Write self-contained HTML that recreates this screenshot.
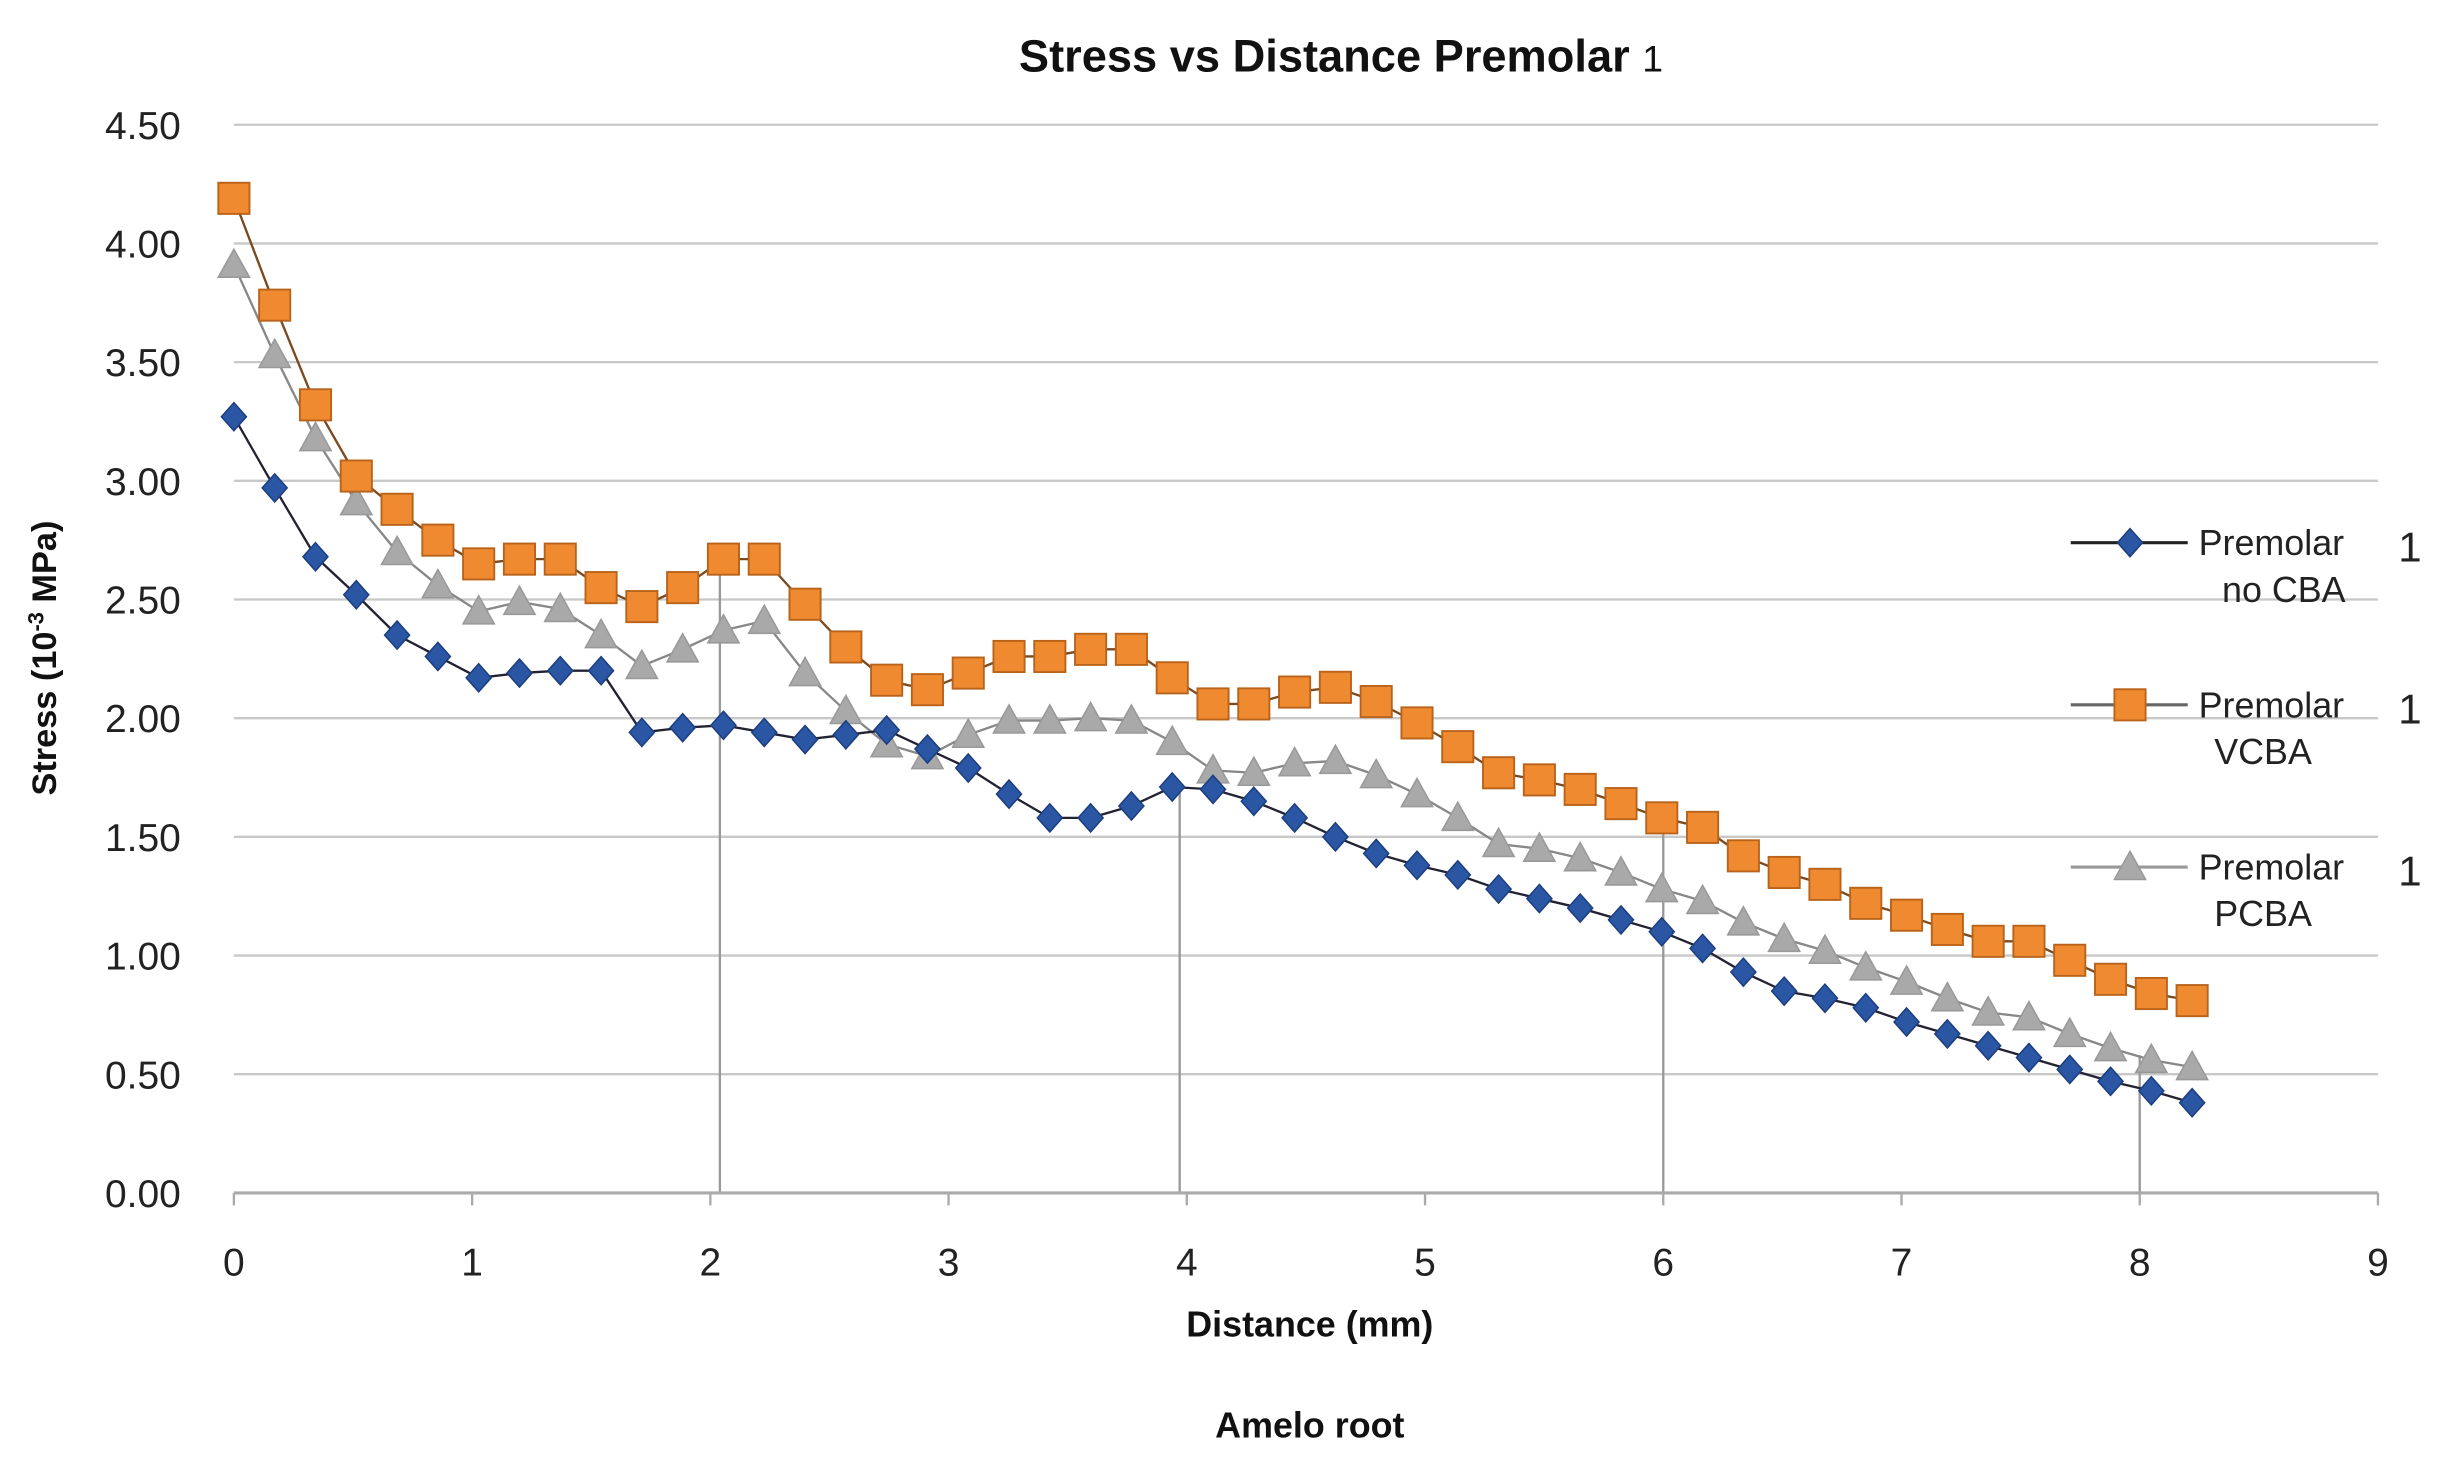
<!DOCTYPE html>
<html><head><meta charset="utf-8"><style>
html,body{margin:0;padding:0;background:#fff;}
svg{display:block;font-family:"Liberation Sans",sans-serif;}
</style></head><body>
<svg id="chart" width="2445" height="1458" viewBox="0 0 1568 935" preserveAspectRatio="none" xmlns="http://www.w3.org/2000/svg">
<rect width="1568" height="935" fill="#fff"/>
<text x="860" y="46" font-size="29" font-weight="bold" text-anchor="middle" fill="#111">Stress vs Distance  Premolar <tspan font-size="24" font-weight="normal">1</tspan></text>
<g id="grid"></g>
<g id="axes"></g>
<g id="series"></g>
<text transform="translate(36,422) rotate(-90)" font-size="22" font-weight="bold" text-anchor="middle" fill="#111">Stress (10<tspan font-size="14" dy="-8">-3</tspan><tspan dy="8"> MPa)</tspan></text>
<text x="840" y="857" font-size="23" font-weight="bold" text-anchor="middle" fill="#111">Distance (mm)</text>
<text x="840" y="922" font-size="23" font-weight="bold" text-anchor="middle" fill="#111">Amelo root</text>
<g id="legend"></g>
</svg>
<script>
const xs = [];
const blueVals = [3.27,2.97,2.68,2.52,2.35,2.26,2.17,2.19,2.20,2.20,1.94,1.96,1.97,1.94,1.91,1.93,1.95,1.87,1.79,1.68,1.58,1.58,1.63,1.71,1.70,1.65,1.58,1.50,1.43,1.38,1.34,1.28,1.24,1.20,1.15,1.10,1.03,0.93,0.85,0.82,0.78,0.72,0.67,0.62,0.57,0.52,0.47,0.43,0.38];
const orangeVals = [4.19,3.74,3.32,3.02,2.88,2.75,2.65,2.67,2.67,2.55,2.47,2.55,2.67,2.67,2.48,2.30,2.16,2.12,2.19,2.26,2.26,2.29,2.29,2.17,2.06,2.06,2.11,2.13,2.07,1.98,1.88,1.77,1.74,1.70,1.64,1.58,1.54,1.42,1.35,1.30,1.22,1.17,1.11,1.06,1.06,0.98,0.90,0.84,0.81];
const grayVals = [3.91,3.53,3.18,2.91,2.70,2.56,2.45,2.49,2.46,2.35,2.22,2.29,2.37,2.41,2.19,2.03,1.89,1.84,1.93,1.99,1.99,2.00,1.99,1.90,1.78,1.77,1.81,1.82,1.76,1.68,1.58,1.47,1.45,1.41,1.35,1.28,1.23,1.14,1.07,1.02,0.95,0.89,0.82,0.76,0.74,0.67,0.61,0.56,0.53];
const xStep = 0.17125;
const yTicks = ["0.00","0.50","1.00","1.50","2.00","2.50","3.00","3.50","4.00","4.50"];
const xTicks = [0,1,2,3,4,5,6,7,8,9];
const dropX = [2.04,3.97,6.0,8.0];
const dropTop = [2.65,1.72,1.55,0.58];
for (let i=0;i<blueVals.length;i++) xs.push(i*xStep);

const NS="http://www.w3.org/2000/svg";
const X=v=>150+v*(1375/9);
const Y=v=>765-v*(685/4.5);
function mk(tag,attrs,parent){const e=document.createElementNS(NS,tag);for(const k in attrs)e.setAttribute(k,attrs[k]);parent.appendChild(e);return e;}
const grid=document.getElementById('grid'),axes=document.getElementById('axes'),ser=document.getElementById('series'),leg=document.getElementById('legend');

yTicks.forEach((t,i)=>{
  const v=parseFloat(t);
  if(i>0){const l=mk('line',{x1:150,x2:1525,y1:Y(v),y2:Y(v),stroke:'#c8c8c8','stroke-width':1.5},grid);
  
  }
  const tx=mk('text',{x:116,y:Y(v)+9,'font-size':25,'text-anchor':'end',fill:'#222'},axes);
  tx.textContent=t;
  
  
});
const ax=mk('line',{x1:150,x2:1525,y1:765,y2:765,stroke:'#aaa','stroke-width':2},axes);


xTicks.forEach(v=>{
  mk('line',{x1:X(v),x2:X(v),y1:765,y2:773,stroke:'#aaa','stroke-width':1.5},axes);
  const tx=mk('text',{x:X(v),y:818,'font-size':25,'text-anchor':'middle',fill:'#222'},axes);
  tx.textContent=v;
  
  
});
dropX.forEach((d,i)=>{
  const l=mk('line',{x1:X(d),x2:X(d),y1:Y(dropTop[i]),y2:765,stroke:'#999','stroke-width':1.5},grid);
  
  
});

function marker(type,cx,cy,g){
  let e;
  if(type==='d') e=mk('polygon',{points:`${cx},${cy-9} ${cx+8},${cy} ${cx},${cy+9} ${cx-8},${cy}`,fill:'#2a56a4',stroke:'#1d3f80','stroke-width':1},g);
  else if(type==='s') e=mk('rect',{x:cx-10,y:cy-10,width:20,height:20,fill:'#ef8a30',stroke:'#b8621a','stroke-width':1.2},g);
  else e=mk('polygon',{points:`${cx},${cy-10} ${cx+10},${cy+8} ${cx-10},${cy+8}`,fill:'#a9a9a9',stroke:'#999','stroke-width':1},g);
  return e;
}
function series(vals,type,line,name){
  const g=mk('g',{},ser);
  
  
  mk('polyline',{points:vals.map((v,i)=>X(xs[i])+','+Y(v)).join(' '),fill:'none',stroke:line,'stroke-width':1.5},g);
  vals.forEach((v,i)=>{const m=marker(type,X(xs[i]),Y(v),g);
    
    });
}
series(grayVals,'t','#888','series-pcba');
series(orangeVals,'s','#7a4a20','series-vcba');
series(blueVals,'d','#223','series-no-cba');

const L=[['d','#222','no CBA',348],['s','#666','VCBA',452],['t','#999','PCBA',556]];
L.forEach(([t,c,lab,y])=>{
  const g=mk('g',{},leg);
  
  
  mk('line',{x1:1328,x2:1403,y1:y,y2:y,stroke:c,'stroke-width':2},g);
  marker(t,1366,y,g);
  const a=mk('text',{x:1410,y:y+8,'font-size':23,fill:'#222'},g);a.textContent='Premolar';
  const b=mk('text',{x:1538,y:y+12,'font-size':27,fill:'#222'},g);b.textContent='1';
  const d=mk('text',{x:lab==='no CBA'?1425:1420,y:y+38,'font-size':23,fill:'#222'},g);d.textContent=lab;
});
</script>
</body></html>
